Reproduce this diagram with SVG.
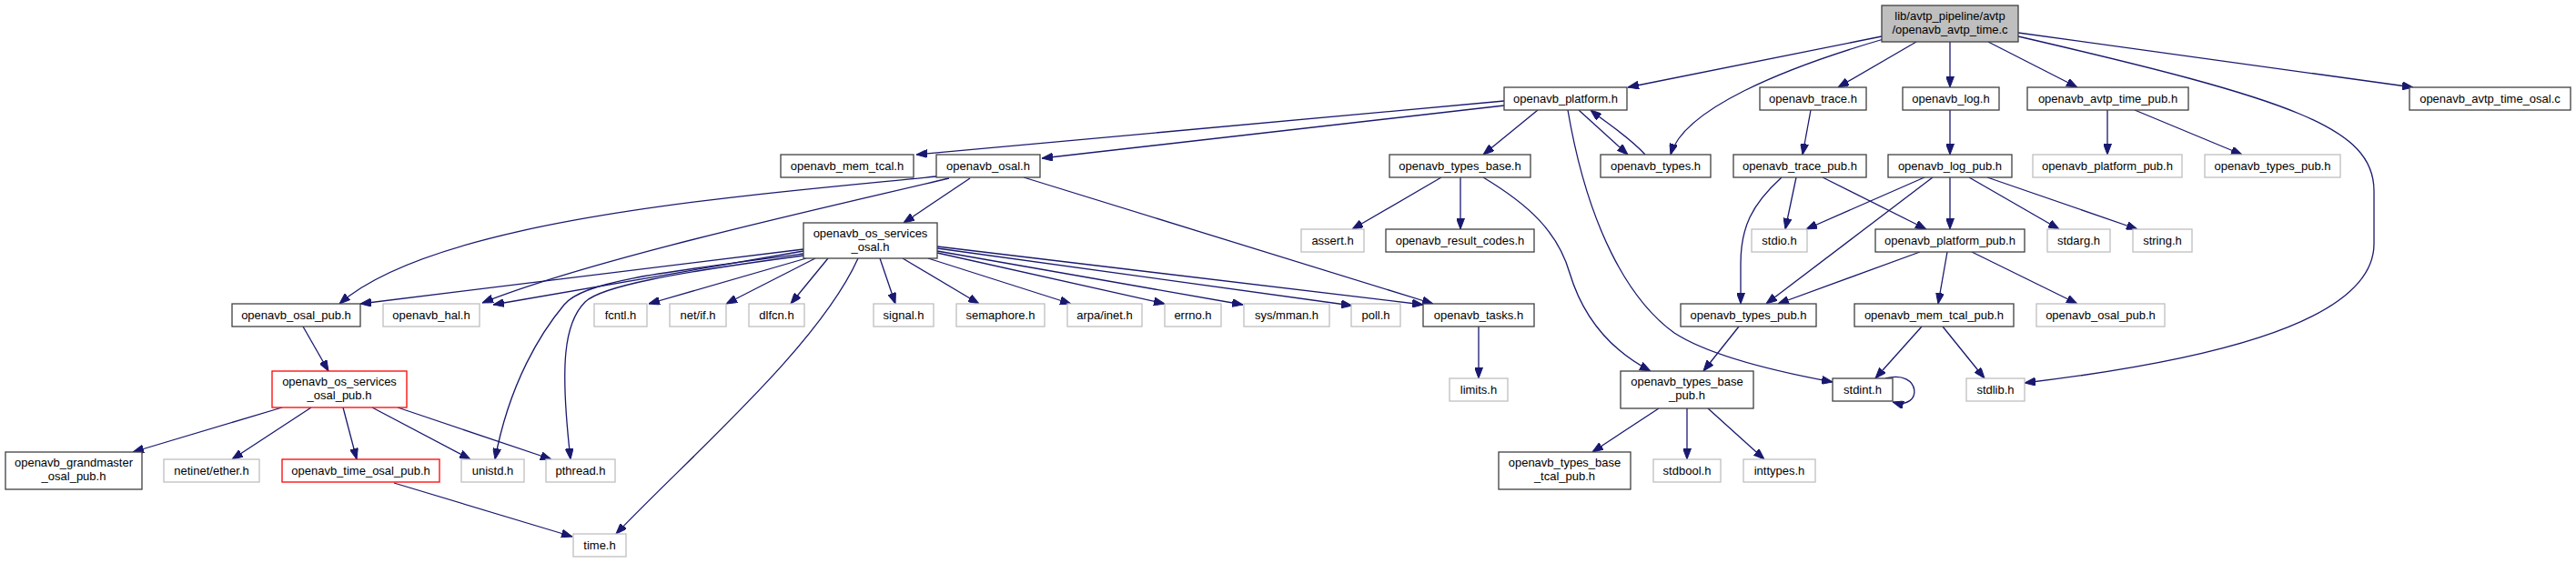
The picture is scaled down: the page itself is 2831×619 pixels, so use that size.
<svg xmlns="http://www.w3.org/2000/svg" width="2831" height="619" viewBox="0 0 2831 619">
<style>
rect{fill:#fff;stroke-width:1.3}
.b{stroke:#404040}
.g{stroke:#bfbfbf}
.r{stroke:#ff0000}
.root{fill:#bfbfbf;stroke:#404040}
text{font-family:"Liberation Sans",Arial,sans-serif;font-size:13px;text-anchor:middle;fill:#000}
#edges path{fill:none;stroke:#191970;stroke-width:1.3;marker-end:url(#arr)}
</style>
<defs>
<marker id="arr" markerUnits="userSpaceOnUse" markerWidth="12" markerHeight="9" refX="12" refY="4.5" orient="auto"><path d="M0,0 L12,4.5 L0,9 z" fill="#191970" stroke="#191970" stroke-width="1"/></marker>
</defs>
<rect width="2831" height="619" style="fill:#fff;stroke:none"/>
<g id="edges">
<path d="M2068,40 L1789,96"/>
<path d="M2070,43 C1960,75 1850,120 1836,170"/>
<path d="M2106,46 L2020,96"/>
<path d="M2143,46 L2143,96"/>
<path d="M2185,46 L2283,96"/>
<path d="M2218,36 L2652,96"/>
<path d="M2218,40 C2520,110 2609,140 2609,210 L2609,268 C2609,360 2400,400 2225,421"/>
<path d="M1653,111 Q1500,125 1007,170"/>
<path d="M1653,116 L1145,174"/>
<path d="M1690,121 L1630,170"/>
<path d="M1735,121 L1789,170"/>
<path d="M1808,170 C1790,150 1765,135 1748,121"/>
<path d="M1723,121 C1745,250 1790,330 1840,366 C1880,392 1960,410 2014,420"/>
<path d="M1990,121 L1981,170"/>
<path d="M2143,121 L2143,170"/>
<path d="M2316,121 L2316,170"/>
<path d="M2346,121 L2464,170"/>
<path d="M1605,195 L1605,252"/>
<path d="M1584,195 L1486,252"/>
<path d="M1630,195 C1680,225 1712,255 1725,300 C1740,350 1770,385 1814,408"/>
<path d="M1974,195 L1962,252"/>
<path d="M1958,195 C1925,225 1913,250 1913,290 L1913,334"/>
<path d="M2003,195 L2117,252"/>
<path d="M2115,195 L1985,252"/>
<path d="M2124,195 L1941,334"/>
<path d="M2143,195 L2143,252"/>
<path d="M2164,195 L2263,252"/>
<path d="M2184,195 L2349,252"/>
<path d="M2110,277 L1954,334"/>
<path d="M2140,277 L2130,334"/>
<path d="M2167,277 L2283,334"/>
<path d="M2112,359 L2061,416"/>
<path d="M2135,359 L2181,416"/>
<path d="M1911,359 L1872,408"/>
<path d="M1625,359 L1625,416"/>
<path d="M1823,449 L1750,497"/>
<path d="M1854,449 L1854,505"/>
<path d="M1877,449 L1939,505"/>
<path d="M2072,416 C2112,405 2114,452 2080,442"/>
<path d="M1029,194 C820,215 480,240 373,334"/>
<path d="M1043,196 C900,230 650,285 530,333"/>
<path d="M1066,196 L993,245"/>
<path d="M1125,195 L1575,334"/>
<path d="M883,274 L396,334"/>
<path d="M883,276 L542,335"/>
<path d="M886,284 L713,334"/>
<path d="M896,284 L798,334"/>
<path d="M910,284 L869,334"/>
<path d="M967,284 L984,334"/>
<path d="M992,284 L1076,334"/>
<path d="M1020,284 L1177,334"/>
<path d="M1030,278 L1280,334"/>
<path d="M1030,276 L1366,335"/>
<path d="M1030,273 L1486,336"/>
<path d="M1030,271 L1564,335"/>
<path d="M883,279 C720,300 640,310 620,335 C595,365 560,420 544,505"/>
<path d="M883,281 C740,300 660,315 643,332 C620,355 615,400 627,505"/>
<path d="M943,284 C900,380 760,500 677,587"/>
<path d="M333,359 L361,408"/>
<path d="M310,448 L146,497"/>
<path d="M342,448 L255,505"/>
<path d="M377,448 L392,505"/>
<path d="M409,448 L517,505"/>
<path d="M437,448 L606,505"/>
<path d="M433,531 L629,590"/>
</g>
<g id="n1"><rect class="root" x="2068" y="6" width="150" height="40"/><text x="2143" y="21.5">lib/avtp_pipeline/avtp</text><text x="2143" y="36.5">/openavb_avtp_time.c</text></g>
<g id="n2"><rect class="b" x="1653" y="96" width="135" height="25"/><text x="1720.5" y="113">openavb_platform.h</text></g>
<g id="n3"><rect class="b" x="1934" y="96" width="117" height="25"/><text x="1992.5" y="113">openavb_trace.h</text></g>
<g id="n4"><rect class="b" x="2091" y="96" width="106" height="25"/><text x="2144" y="113">openavb_log.h</text></g>
<g id="n5"><rect class="b" x="2228" y="96" width="177" height="25"/><text x="2316.5" y="113">openavb_avtp_time_pub.h</text></g>
<g id="n6"><rect class="b" x="2648" y="96" width="177" height="25"/><text x="2736.5" y="113">openavb_avtp_time_osal.c</text></g>
<g id="n7"><rect class="b" x="858" y="170" width="146" height="25"/><text x="931" y="187">openavb_mem_tcal.h</text></g>
<g id="n8"><rect class="b" x="1029" y="170" width="114" height="25"/><text x="1086" y="187">openavb_osal.h</text></g>
<g id="n9"><rect class="b" x="1527" y="170" width="155" height="25"/><text x="1604.5" y="187">openavb_types_base.h</text></g>
<g id="n10"><rect class="b" x="1759" y="170" width="121" height="25"/><text x="1819.5" y="187">openavb_types.h</text></g>
<g id="n11"><rect class="b" x="1905" y="170" width="146" height="25"/><text x="1978" y="187">openavb_trace_pub.h</text></g>
<g id="n12"><rect class="b" x="2075" y="170" width="136" height="25"/><text x="2143" y="187">openavb_log_pub.h</text></g>
<g id="n13"><rect class="g" x="2234" y="170" width="164" height="25"/><text x="2316" y="187">openavb_platform_pub.h</text></g>
<g id="n14"><rect class="g" x="2423" y="170" width="149" height="25"/><text x="2497.5" y="187">openavb_types_pub.h</text></g>
<g id="n15"><rect class="b" x="883" y="245" width="147" height="39"/><text x="956.5" y="261">openavb_os_services</text><text x="956.5" y="276">_osal.h</text></g>
<g id="n16"><rect class="g" x="1430" y="252" width="69" height="25"/><text x="1464.5" y="269">assert.h</text></g>
<g id="n17"><rect class="b" x="1523" y="252" width="163" height="25"/><text x="1604.5" y="269">openavb_result_codes.h</text></g>
<g id="n18"><rect class="g" x="1925" y="252" width="61" height="25"/><text x="1955.5" y="269">stdio.h</text></g>
<g id="n19"><rect class="b" x="2061" y="252" width="164" height="25"/><text x="2143" y="269">openavb_platform_pub.h</text></g>
<g id="n20"><rect class="g" x="2250" y="252" width="69" height="25"/><text x="2284.5" y="269">stdarg.h</text></g>
<g id="n21"><rect class="g" x="2344" y="252" width="65" height="25"/><text x="2376.5" y="269">string.h</text></g>
<g id="n22"><rect class="b" x="255" y="334" width="141" height="25"/><text x="325.5" y="351">openavb_osal_pub.h</text></g>
<g id="n23"><rect class="g" x="421" y="334" width="106" height="25"/><text x="474" y="351">openavb_hal.h</text></g>
<g id="n24"><rect class="g" x="653" y="334" width="58" height="25"/><text x="682" y="351">fcntl.h</text></g>
<g id="n25"><rect class="g" x="736" y="334" width="62" height="25"/><text x="767" y="351">net/if.h</text></g>
<g id="n26"><rect class="g" x="823" y="334" width="61" height="25"/><text x="853.5" y="351">dlfcn.h</text></g>
<g id="n27"><rect class="g" x="960" y="334" width="66" height="25"/><text x="993" y="351">signal.h</text></g>
<g id="n28"><rect class="g" x="1051" y="334" width="97" height="25"/><text x="1099.5" y="351">semaphore.h</text></g>
<g id="n29"><rect class="g" x="1173" y="334" width="82" height="25"/><text x="1214" y="351">arpa/inet.h</text></g>
<g id="n30"><rect class="g" x="1280" y="334" width="62" height="25"/><text x="1311" y="351">errno.h</text></g>
<g id="n31"><rect class="g" x="1367" y="334" width="94" height="25"/><text x="1414" y="351">sys/mman.h</text></g>
<g id="n32"><rect class="g" x="1485" y="334" width="54" height="25"/><text x="1512" y="351">poll.h</text></g>
<g id="n33"><rect class="b" x="1564" y="334" width="122" height="25"/><text x="1625" y="351">openavb_tasks.h</text></g>
<g id="n34"><rect class="b" x="1847" y="334" width="149" height="25"/><text x="1921.5" y="351">openavb_types_pub.h</text></g>
<g id="n35"><rect class="b" x="2038" y="334" width="175" height="25"/><text x="2125.5" y="351">openavb_mem_tcal_pub.h</text></g>
<g id="n36"><rect class="g" x="2238" y="334" width="141" height="25"/><text x="2308.5" y="351">openavb_osal_pub.h</text></g>
<g id="n37"><rect class="r" x="299" y="408" width="148" height="40"/><text x="373" y="424">openavb_os_services</text><text x="373" y="439">_osal_pub.h</text></g>
<g id="n38"><rect class="b" x="1781" y="408" width="146" height="41"/><text x="1854" y="424">openavb_types_base</text><text x="1854" y="439">_pub.h</text></g>
<g id="n39"><rect class="b" x="2014" y="416" width="66" height="25"/><text x="2047" y="433">stdint.h</text></g>
<g id="n40"><rect class="g" x="2161" y="416" width="64" height="25"/><text x="2193" y="433">stdlib.h</text></g>
<g id="n41"><rect class="g" x="1593" y="416" width="64" height="25"/><text x="1625" y="433">limits.h</text></g>
<g id="n42"><rect class="b" x="6" y="497" width="150" height="41"/><text x="81" y="513">openavb_grandmaster</text><text x="81" y="528">_osal_pub.h</text></g>
<g id="n43"><rect class="g" x="180" y="505" width="105" height="25"/><text x="232.5" y="522">netinet/ether.h</text></g>
<g id="n44"><rect class="r" x="310" y="505" width="173" height="25"/><text x="396.5" y="522">openavb_time_osal_pub.h</text></g>
<g id="n45"><rect class="g" x="507" y="505" width="69" height="25"/><text x="541.5" y="522">unistd.h</text></g>
<g id="n46"><rect class="g" x="600" y="505" width="76" height="25"/><text x="638" y="522">pthread.h</text></g>
<g id="n47"><rect class="g" x="630" y="587" width="58" height="25"/><text x="659" y="604">time.h</text></g>
<g id="n48"><rect class="b" x="1647" y="497" width="145" height="41"/><text x="1719.5" y="513">openavb_types_base</text><text x="1719.5" y="528">_tcal_pub.h</text></g>
<g id="n49"><rect class="g" x="1817" y="505" width="74" height="25"/><text x="1854" y="522">stdbool.h</text></g>
<g id="n50"><rect class="g" x="1916" y="505" width="79" height="25"/><text x="1955.5" y="522">inttypes.h</text></g>
</svg>
